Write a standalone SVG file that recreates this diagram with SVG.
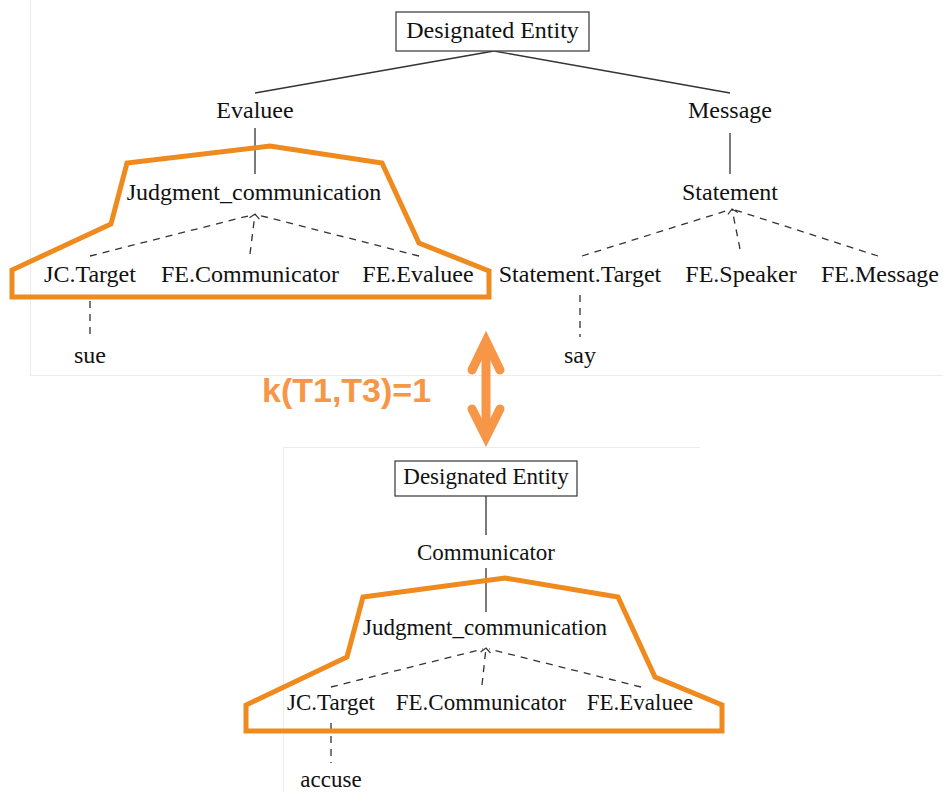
<svg xmlns="http://www.w3.org/2000/svg" width="943" height="792" viewBox="0 0 943 792">
  <defs>
    <marker id="tip" viewBox="-8 -8 16 16" markerWidth="16" markerHeight="16" markerUnits="userSpaceOnUse" refX="0" refY="0" orient="auto">
      <path d="M-4.5,-5 L0,0 L-4.5,5" fill="none" stroke="#333" stroke-width="1.2"/>
    </marker>
  </defs>
  <style>
    .lbl { font-family: "Liberation Serif", "Times New Roman", serif; fill: #111; text-anchor: middle; }
    .t1 { font-size: 24px; }
    .t2 { font-size: 23px; }
    .box { fill: #fff; stroke: #444; stroke-width: 1.3; }
    .solid { stroke: #333; stroke-width: 1.3; fill: none; }
    .dash { stroke: #333; stroke-width: 1.3; fill: none; stroke-dasharray: 7 6; }
    .hull { fill: none; stroke: #EE8A1E; stroke-width: 5; stroke-linejoin: miter; }
    .sim { fill: none; stroke: #F79646; stroke-width: 9; stroke-linecap: round; stroke-linejoin: miter; }
    .score { font-family: "Liberation Sans", Arial, sans-serif; font-weight: bold; font-size: 34px; fill: #F79646; }
    .frame { stroke: #ececec; stroke-width: 1; fill: none; }
  </style>

  <rect width="943" height="792" fill="#fff"/>

  <!-- panel edges -->
  <g id="frames">
    <path class="frame" d="M30.5,0 V375.5 H943"/>
    <path class="frame" d="M283.5,792 V447.5 H700"/>
  </g>

  <!-- tree connectors -->
  <g id="connectors">
    <!-- upper tree -->
    <line class="solid" x1="494" y1="51" x2="255" y2="93"/>
    <line class="solid" x1="494" y1="51" x2="730" y2="93"/>
    <line class="solid" x1="255" y1="128" x2="255" y2="174"/>
    <line class="solid" x1="730" y1="133" x2="730" y2="174"/>
    <line class="dash" x1="90" y1="256" x2="252" y2="215"/>
    <line class="dash" x1="250" y1="254" x2="255" y2="214" marker-end="url(#tip)"/>
    <line class="dash" x1="419" y1="256" x2="258" y2="215"/>
    <line class="dash" x1="90" y1="301" x2="90" y2="337"/>
    <line class="dash" x1="582" y1="256" x2="729" y2="210"/>
    <line class="dash" x1="740" y1="249" x2="732" y2="209" marker-end="url(#tip)"/>
    <line class="dash" x1="878" y1="256" x2="735" y2="210"/>
    <line class="dash" x1="580" y1="295" x2="580" y2="337"/>
    <!-- lower tree -->
    <line class="solid" x1="486" y1="496" x2="486" y2="535"/>
    <line class="solid" x1="486" y1="568" x2="486" y2="612"/>
    <line class="dash" x1="331" y1="687" x2="483" y2="649"/>
    <line class="dash" x1="482" y1="685" x2="486" y2="648" marker-end="url(#tip)"/>
    <line class="dash" x1="641" y1="687" x2="489" y2="649"/>
    <line class="dash" x1="331" y1="723" x2="331" y2="763"/>
  </g>

  <!-- upper tree nodes -->
  <g id="de-top">
    <rect class="box" x="396" y="12" width="193" height="39"/>
    <text class="lbl t1" x="492.5" y="38">Designated Entity</text>
  </g>
  <g id="evaluee"><text class="lbl t1" x="255" y="118">Evaluee</text></g>
  <g id="message"><text class="lbl t1" x="730" y="118">Message</text></g>
  <g id="jc-top"><text class="lbl t1" x="254" y="200">Judgment_communication</text></g>
  <g id="statement"><text class="lbl t1" x="730" y="200">Statement</text></g>
  <g id="jc-target-top"><text class="lbl t1" x="90" y="282">JC.Target</text></g>
  <g id="fe-communicator-top"><text class="lbl t1" x="250" y="282">FE.Communicator</text></g>
  <g id="fe-evaluee-top"><text class="lbl t1" x="418" y="282">FE.Evaluee</text></g>
  <g id="statement-target"><text class="lbl t1" x="580" y="282">Statement.Target</text></g>
  <g id="fe-speaker"><text class="lbl t1" x="741" y="282">FE.Speaker</text></g>
  <g id="fe-message"><text class="lbl t1" x="880" y="282">FE.Message</text></g>
  <g id="sue"><text class="lbl t1" x="90" y="363">sue</text></g>
  <g id="say"><text class="lbl t1" x="580" y="363">say</text></g>

  <!-- lower tree nodes -->
  <g id="de-bottom">
    <rect class="box" x="395" y="461" width="182" height="35"/>
    <text class="lbl t2" x="486" y="484">Designated Entity</text>
  </g>
  <g id="communicator"><text class="lbl t2" x="486" y="560">Communicator</text></g>
  <g id="jc-bottom"><text class="lbl t2" x="485" y="635">Judgment_communication</text></g>
  <g id="jc-target-bottom"><text class="lbl t2" x="331" y="710">JC.Target</text></g>
  <g id="fe-communicator-bottom"><text class="lbl t2" x="481" y="710">FE.Communicator</text></g>
  <g id="fe-evaluee-bottom"><text class="lbl t2" x="640" y="710">FE.Evaluee</text></g>
  <g id="accuse"><text class="lbl t2" x="331" y="787">accuse</text></g>

  <!-- shared fragment outlines -->
  <g id="fragment-top">
    <polygon class="hull" points="12,297 12,270 111,224 127,163 270,146 382,163 419,243 489,271 489,297"/>
  </g>
  <g id="fragment-bottom">
    <polygon class="hull" points="246,731 246,705 347,657 363,597 505,578 618,597 655,677 722,705 722,731"/>
  </g>

  <!-- kernel score -->
  <g id="similarity">
    <line class="sim" x1="486" y1="346" x2="486" y2="432"/>
    <polyline class="sim" points="472,370 486,341 500,370"/>
    <polyline class="sim" points="472,409 486,437 500,409"/>
    <text class="score" x="262" y="402">k(T1,T3)=1</text>
  </g>
</svg>
